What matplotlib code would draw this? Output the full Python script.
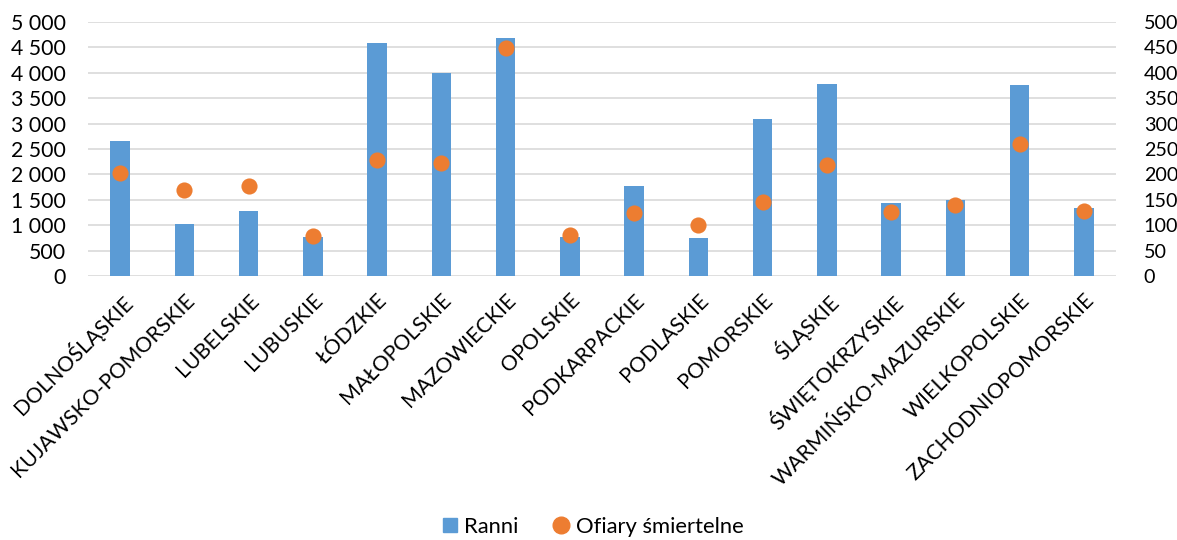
import matplotlib
matplotlib.use("Agg")
import matplotlib.pyplot as plt
from matplotlib.ticker import FuncFormatter, MultipleLocator
from matplotlib.lines import Line2D
import numpy as np

plt.rcParams['font.family'] = ['Lato', 'DejaVu Sans']

categories = ["DOLNOŚLĄSKIE", "KUJAWSKO-POMORSKIE", "LUBELSKIE", "LUBUSKIE", "ŁÓDZKIE",
              "MAŁOPOLSKIE", "MAZOWIECKIE", "OPOLSKIE", "PODKARPACKIE", "PODLASKIE",
              "POMORSKIE", "ŚLĄSKIE", "ŚWIĘTOKRZYSKIE", "WARMIŃSKO-MAZURSKIE",
              "WIELKOPOLSKIE", "ZACHODNIOPOMORSKIE"]
ranni = [2660, 1020, 1276, 776, 4592, 4000, 4678, 776, 1770, 757, 3092, 3776, 1441, 1493, 3763, 1342]
ofiary = [202, 170, 178, 78, 228, 222, 448, 80, 124, 101, 145, 218, 126, 139, 260, 128]

bar_color = "#5b9bd5"
dot_color = "#ed7d31"
grid_color = "#d9d9d9"
fs = 15.3

fig = plt.figure(figsize=(11.77, 5.40), dpi=100)
ax = fig.add_axes([88/1177, 1-276/540, (1116-88)/1177, (276-22)/540])
x = np.arange(len(categories))
ax.bar(x, ranni, width=0.30, color=bar_color, zorder=2)
ax.set_xlim(-0.5, len(categories)-0.5)
ax.set_ylim(0, 5000)
ax.yaxis.set_major_locator(MultipleLocator(500))
ax.yaxis.set_major_formatter(FuncFormatter(lambda v, p: f"{int(v):,}".replace(",", " ")))
ax.grid(axis='y', color=grid_color, linewidth=1.2, zorder=0)
ax.set_axisbelow(True)
for s in ax.spines.values():
    s.set_visible(False)
ax.tick_params(axis='both', length=0, labelsize=fs, colors='#000000')
ax.tick_params(axis='y', pad=16)
ax.set_xticks(x)
ax.set_xticklabels(categories, rotation=45, ha='right', rotation_mode='anchor')
ax.tick_params(axis='x', pad=10)

ax2 = ax.twinx()
ax2.scatter(x, ofiary, s=135, color=dot_color, zorder=3, linewidths=0)
ax2.set_ylim(0, 500)
ax2.yaxis.set_major_locator(MultipleLocator(50))
for s in ax2.spines.values():
    s.set_visible(False)
ax2.tick_params(axis='y', length=0, labelsize=14.2, pad=20)
for lbl in ax2.get_yticklabels():
    lbl.set_horizontalalignment('left')

handles = [Line2D([], [], marker='s', linestyle='none', color=bar_color, markersize=10),
           Line2D([], [], marker='o', linestyle='none', color=dot_color, markersize=12)]
fig.legend(handles, ["Ranni", "Ofiary śmiertelne"], loc='center', bbox_to_anchor=(0.5, 1-527/540),
           ncol=2, frameon=False, fontsize=fs + 0.5, handletextpad=-0.1, columnspacing=1.2,
           handlelength=1.5)

fig.savefig("out.png", dpi=100)
